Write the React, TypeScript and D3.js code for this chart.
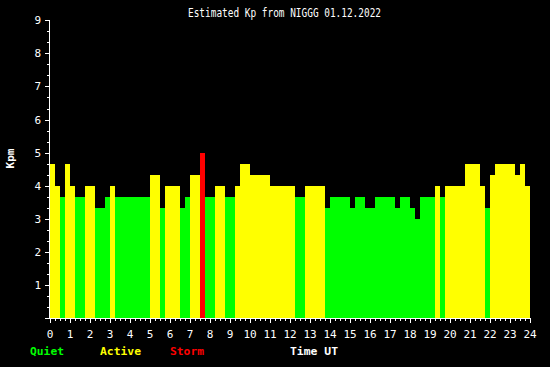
import React from "react";
import * as d3 from "d3";

const title = "Estimated Kp from NIGGG 01.12.2022";
const yLabel = "Kpm";
const xLabel = "Time UT";
const hourTicks = [0,1,2,3,4,5,6,7,8,9,10,11,12,13,14,15,16,17,18,19,20,21,22,23,24];
const yTicks = [1,2,3,4,5,6,7,8,9];
// Kp values every 15 minutes (96 slots)
const kpValues = [
  4.67, 4, 3.67, 4.67, 4, 3.67, 3.67, 4, 4, 3.33, 3.33, 3.67,
  4, 3.67, 3.67, 3.67, 3.67, 3.67, 3.67, 3.67, 4.33, 4.33, 3.33, 4,
  4, 4, 3.33, 3.67, 4.33, 4.33, 5, 3.67, 3.67, 4, 4, 3.67,
  3.67, 4, 4.67, 4.67, 4.33, 4.33, 4.33, 4.33, 4, 4, 4, 4,
  4, 3.67, 3.67, 4, 4, 4, 4, 3.33, 3.67, 3.67, 3.67, 3.67,
  3.33, 3.67, 3.67, 3.33, 3.33, 3.67, 3.67, 3.67, 3.67, 3.33, 3.67, 3.67,
  3.33, 3, 3.67, 3.67, 3.67, 4, 3.67, 4, 4, 4, 4, 4.67,
  4.67, 4.67, 4, 3.33, 4.33, 4.67, 4.67, 4.67, 4.67, 4.33, 4.67, 4,
];
const legend = [
  { label: "Quiet", color: "#00ff00" },
  { label: "Active", color: "#ffff00" },
  { label: "Storm", color: "#ff0000" },
];

export default function App() {
  const W = 550, H = 367;
  const x = d3.scaleLinear().domain([0, 24]).range([50, 530]);
  const y = d3.scaleLinear().domain([0, 9]).range([318, 20.3]);
  const slot = 0.25;
  const color = (v: number) => (v >= 5 ? "#ff0000" : v >= 4 ? "#ffff00" : "#00ff00");
  const minorX = d3.range(0, 24 * 4 + 1).map((i) => i * slot);
  const minorY = d3.range(0, 27 + 1).map((i) => i / 3);
  const mono = "'DejaVu Sans Mono', 'Liberation Mono', monospace";
  return (
    <svg width={W} height={H} style={{ position: "fixed", left: 0, top: 0, display: "block" }}>
      <rect x={0} y={0} width={W} height={H} fill="#000" />
      <text x={284.5} y={17} fill="#fff" fontFamily={mono} fontSize={12} textAnchor="middle" textLength={193} lengthAdjust="spacingAndGlyphs">{title}</text>
      {kpValues.map((v, i) => (
        <rect key={i} x={x(i * slot)} y={y(v)} width={x((i + 1) * slot) - x(i * slot)} height={y(0) - y(v)} fill={color(v)} shapeRendering="crispEdges" />
      ))}
      <line x1={49.5} x2={49.5} y1={y(9)} y2={319} stroke="#fff" shapeRendering="crispEdges" />
      <line x1={49.5} x2={530.5} y1={318.5} y2={318.5} stroke="#fff" shapeRendering="crispEdges" />
      {minorY.map((v, i) => (
        <line key={"yt" + i} x1={i % 3 === 0 ? 45 : 47} x2={50} y1={Math.round(y(v)) + 0.5} y2={Math.round(y(v)) + 0.5} stroke="#fff" shapeRendering="crispEdges" />
      ))}
      {minorX.map((h, i) => (
        <line key={"xt" + i} x1={Math.round(x(h)) + 0.5} x2={Math.round(x(h)) + 0.5} y1={318} y2={i % 4 === 0 ? 323 : 320.5} stroke="#fff" shapeRendering="crispEdges" />
      ))}
      {yTicks.map((t) => (
        <text key={"yl" + t} x={41} y={y(t) + 4} fill="#fff" fontFamily={mono} fontSize={11} textAnchor="end">{t}</text>
      ))}
      {hourTicks.map((t) => (
        <text key={"xl" + t} x={x(t)} y={338} fill="#fff" fontFamily={mono} fontSize={11} textAnchor="middle">{t}</text>
      ))}
      <text transform="translate(14,158.5) rotate(-90)" fill="#fff" fontFamily={mono} fontSize={11} fontWeight="bold" textAnchor="middle">{yLabel}</text>
      {legend.map((l, i) => (
        <text key={l.label} x={[30, 100, 170][i]} y={355} fill={l.color} fontFamily={mono} fontSize={11} fontWeight="bold" textLength={l.label.length * 7 - 1} lengthAdjust="spacingAndGlyphs">{l.label}</text>
      ))}
      <text x={290} y={355} fill="#fff" fontFamily={mono} fontSize={11} fontWeight="bold" textLength={48} lengthAdjust="spacingAndGlyphs">{xLabel}</text>
    </svg>
  );
}
